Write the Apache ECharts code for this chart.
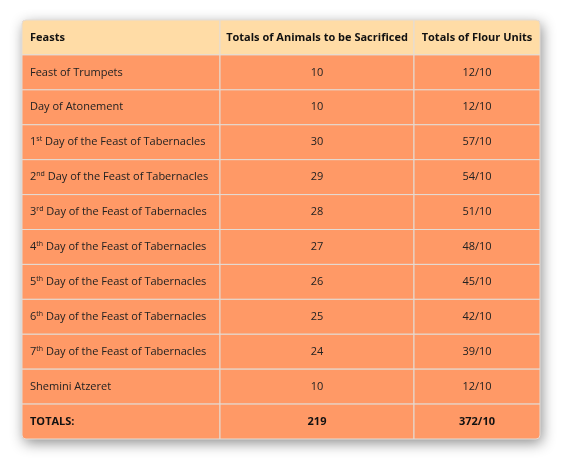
<!DOCTYPE html>
<html><head><meta charset="utf-8">
<script src="https://cdn.jsdelivr.net/npm/echarts@6/dist/echarts.min.js"></script>
<style>html,body{margin:0;padding:0;background:#fff}#c{width:568px;height:468px}</style>
</head><body><div id="c"></div>
<script>
const headers = ["Feasts", "Totals of Animals to be Sacrificed", "Totals of Flour Units"];
const feastOrdinals = ["", "", "1", "2", "3", "4", "5", "6", "7", "", ""];
const feastSuffixes = ["", "", "st", "nd", "rd", "th", "th", "th", "th", "", ""];
const feastNames = ["Feast of Trumpets", "Day of Atonement", " Day of the Feast of Tabernacles", " Day of the Feast of Tabernacles", " Day of the Feast of Tabernacles", " Day of the Feast of Tabernacles", " Day of the Feast of Tabernacles", " Day of the Feast of Tabernacles", " Day of the Feast of Tabernacles", "Shemini Atzeret", "TOTALS:"];
const animals = ["10", "10", "30", "29", "28", "27", "26", "25", "24", "10", "219"];
const flour = ["12/10", "12/10", "57/10", "54/10", "51/10", "48/10", "45/10", "42/10", "39/10", "12/10", "372/10"];

const colEdges = [0, 198, 392, 518];
const nRows = feastNames.length + 1;
const rows = [];
for (let i = 0; i < nRows; i++) rows.push(String(i));
const data = [];
for (let r = 0; r < nRows; r++) for (let c = 0; c < 3; c++) data.push([c, r]);

function cellText(c, r) {
  if (r === 0) return '{h|' + headers[c] + '}';
  const i = r - 1, last = i === feastNames.length - 1;
  if (c === 0) {
    if (last) return '{b|' + feastNames[i] + '}';
    if (feastOrdinals[i]) return '{t|' + feastOrdinals[i] + '}{s|' + feastSuffixes[i] + '}{t|' + feastNames[i] + '}';
    return '{t|' + feastNames[i] + '}';
  }
  const v = c === 1 ? animals[i] : flour[i];
  return last ? '{b|' + v + '}' : '{t|' + v + '}';
}
const F = '"Open Sans", sans-serif';
const chart = echarts.init(document.getElementById('c'));
chart.setOption({
  animation: false,
  grid: { left: 22, top: 20, width: 518, height: 419 },
  xAxis: { type: 'value', min: 0, max: 518, show: false },
  yAxis: { type: 'category', data: rows, inverse: true, show: false },
  graphic: [{ type: 'rect', z: 0, shape: { x: 22, y: 20, width: 518, height: 419, r: 4 },
    style: { fill: '#ff9966', shadowBlur: 14, shadowColor: 'rgba(0,0,0,0.45)', shadowOffsetX: 2, shadowOffsetY: 4 } }],
  series: [{
    type: 'custom', z: 5, data: data,
    renderItem: function (params, api) {
      const c = api.value(0), r = api.value(1);
      const p0 = api.coord([colEdges[c], r]);
      const p1 = api.coord([colEdges[c + 1], r]);
      const h = api.size([0, 1])[1];
      const y = p0[1] - h / 2;
      const rad = [0, 0, 0, 0];
      if (r === 0 && c === 0) rad[0] = 4;
      if (r === 0 && c === 2) rad[1] = 4;
      if (r === nRows - 1 && c === 2) rad[2] = 4;
      if (r === nRows - 1 && c === 0) rad[3] = 4;
      return { type: 'group', children: [
        { type: 'rect', shape: { x: p0[0], y: y, width: p1[0] - p0[0], height: h, r: rad },
          style: { fill: r === 0 ? '#ffdca6' : '#ff9966', stroke: '#e3dcd6', lineWidth: 1 } },
        { type: 'text', x: c === 0 ? p0[0] + 8 : (p0[0] + p1[0]) / 2, y: p0[1],
          style: { text: cellText(c, r), align: c === 0 ? 'left' : 'center', verticalAlign: 'middle',
            rich: {
              h: { fontFamily: F, fontSize: 11, fontWeight: 'bold', fill: '#111' },
              b: { fontFamily: F, fontSize: 11, fontWeight: 'bold', fill: '#111' },
              t: { fontFamily: F, fontSize: 11, fill: '#222' },
              s: { fontFamily: F, fontSize: 7, fill: '#222', verticalAlign: 'top', padding: [0, 0, 6, 0] }
            } } }
      ] };
    }
  }]
});
</script></body></html>
